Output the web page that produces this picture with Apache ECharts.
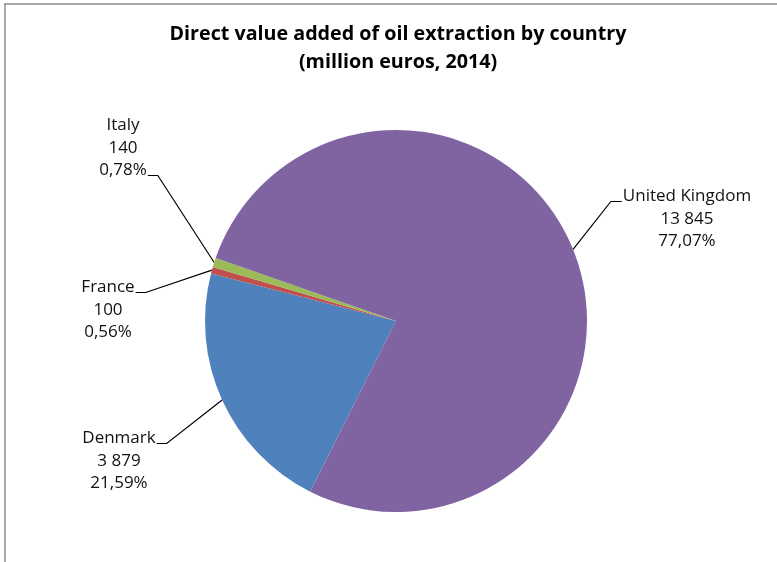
<!DOCTYPE html>
<html>
<head>
<meta charset="utf-8">
<title>Direct value added of oil extraction by country</title>
<script src="https://cdn.jsdelivr.net/npm/echarts@6/dist/echarts.min.js"></script>
<style>
  html, body { margin: 0; padding: 0; background: #fff; }
  #chart { width: 777px; height: 562px; }
</style>
</head>
<body>
<div id="chart"></div>
<script>
// Direct value added of oil extraction, million euros, 2014
const countries = ['Denmark', 'France', 'Italy', 'United Kingdom'];
const values = [3879, 100, 140, 13845];
const colors = ['#4F81BD', '#C0504D', '#9BBB59', '#8064A2'];

const LABEL_FONT = '17px "Open Sans", "Noto Sans", sans-serif';
const LINE_H = 22.5;

// label block placement: centre x, centre y, which text line the leader joins, side of the join
const labelPlace = [
  { x: 119, y: 461, line: 0, side: 'right' },
  { x: 108, y: 310, line: 0, side: 'right' },
  { x: 123, y: 148, line: 2, side: 'right' },
  { x: 687, y: 219, line: 0, side: 'left' }
];

const total = values.reduce((a, b) => a + b, 0);
const fmtNum = v => String(v).replace(/\B(?=(\d{3})+(?!\d))/g, ' ');
const fmtPct = v => (v / total * 100).toFixed(2).replace('.', ',') + '%';
const labelLines = i => [countries[i], fmtNum(values[i]), fmtPct(values[i])];

const measureCtx = document.createElement('canvas').getContext('2d');
measureCtx.font = LABEL_FONT;

const chart = echarts.init(document.getElementById('chart'), null, { renderer: 'canvas' });

chart.setOption({
  animation: false,
  backgroundColor: '#ffffff',
  title: {
    text: 'Direct value added of oil extraction by country\n(million euros, 2014)',
    left: 393,
    textAlign: 'center',
    top: 15,
    textStyle: {
      fontFamily: '"Open Sans", sans-serif',
      fontWeight: 'bold',
      fontSize: 19.7,
      lineHeight: 28,
      color: '#000'
    }
  },
  graphic: [
    { type: 'line', shape: { x1: 4, y1: 4, x2: 777, y2: 4 }, style: { stroke: '#8c8c8c', lineWidth: 1.5 } },
    { type: 'line', shape: { x1: 5, y1: 4, x2: 5, y2: 562 }, style: { stroke: '#8c8c8c', lineWidth: 1.5 } }
  ],
  series: [{
    type: 'pie',
    center: [396, 321],
    radius: 191,
    startAngle: 243.3,
    clockwise: true,
    avoidLabelOverlap: false,
    itemStyle: { borderWidth: 0 },
    label: {
      show: true,
      formatter: p => labelLines(p.dataIndex).join('\n'),
      fontFamily: '"Open Sans", "Noto Sans", sans-serif',
      fontSize: 17,
      lineHeight: LINE_H,
      color: '#111',
      align: 'center'
    },
    labelLine: {
      show: true,
      length: 10,
      length2: 10,
      lineStyle: { color: '#000', width: 1.2 }
    },
    labelLayout: params => {
      const i = params.dataIndex;
      const pl = labelPlace[i];
      const lines = labelLines(i);
      const w = measureCtx.measureText(lines[pl.line]).width;
      const nLines = lines.length;
      const lineY = pl.y + (pl.line - (nLines - 1) / 2) * LINE_H + 5;
      const endX = pl.side === 'right' ? pl.x + w / 2 + 1 : pl.x - w / 2 - 1;
      const elbowX = pl.side === 'right' ? endX + 10 : endX - 11;
      const anchor = params.labelLinePoints ? params.labelLinePoints[0] : [endX, lineY];
      return {
        x: pl.x,
        y: pl.y,
        align: 'center',
        verticalAlign: 'middle',
        labelLinePoints: [anchor, [elbowX, lineY], [endX, lineY]]
      };
    },
    data: countries.map((name, i) => ({
      name: name,
      value: values[i],
      itemStyle: { color: colors[i] }
    }))
  }]
});
</script>
</body>
</html>
